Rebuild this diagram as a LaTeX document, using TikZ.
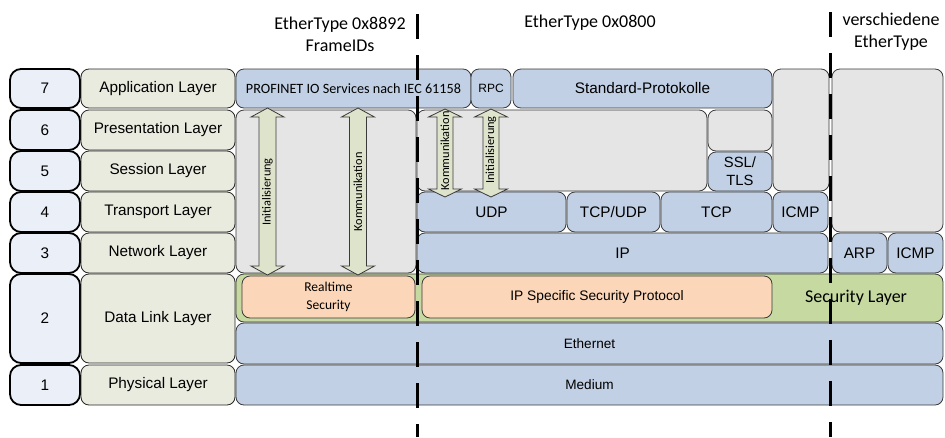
\documentclass[tikz,border=0pt]{standalone}
\usepackage{fontspec}
\setmainfont{Liberation Sans}
\newfontfamily\calfont{Carlito}

\definecolor{numfill}{HTML}{EAEFF8}
\definecolor{layfill}{HTML}{E9EBDF}
\definecolor{bluefill}{HTML}{C1D0E4}
\definecolor{greyfill}{HTML}{E5E5E5}
\definecolor{secgreen}{HTML}{C5D9A1}
\definecolor{peach}{HTML}{FBD6B8}
\definecolor{arrowfill}{HTML}{DEE3CB}
\definecolor{edge}{HTML}{3A3A3A}

\tikzset{
  blk/.style={draw=edge, line width=0.8pt, rounded corners=8pt, inner sep=0pt, outer sep=0pt,
              align=center, font=\fontsize{15.3}{18}\selectfont},
  numbox/.style={blk, draw=black, line width=1.8pt, rounded corners=11pt, fill=numfill},
  laybox/.style={blk, draw=black!85, fill=layfill},
  bluebox/.style={blk, fill=bluefill},
  greybox/.style={blk, fill=greyfill},
  greenbox/.style={blk, fill=secgreen},
  peachbox/.style={blk, fill=peach},
  arrowbox/.style={draw=edge, line width=0.8pt, fill=arrowfill, line join=miter},
  arrowtext/.style={rotate=90, inner sep=0pt, font=\calfont\fontsize{12.3}{14}\selectfont},
  headtext/.style={align=center, inner sep=0pt, font=\calfont\fontsize{18}{22}\selectfont},
  divider/.style={line width=3pt, dash pattern=on 25pt off 16pt},
}

% box from corner (x1,y1) to (x2,y2), name, style, text
\newcommand\blkbox[7]{\node[#6, minimum width={(#3-#1)*1pt}, minimum height={(#4-#2)*1pt}]
  (#5) at ({(#1+#3)/2},{(#2+#4)/2}) {#7};}
% block double arrow: centre x, top tip, bottom tip, shaft half width, head half width, head length
\newcommand\dblarrow[6]{%
  \draw[arrowbox] (#1,#2) -- ({#1+#5},{#2+#6}) -- ({#1+#4},{#2+#6}) -- ({#1+#4},{#3-#6})
    -- ({#1+#5},{#3-#6}) -- (#1,#3) -- ({#1-#5},{#3-#6}) -- ({#1-#4},{#3-#6})
    -- ({#1-#4},{#2+#6}) -- ({#1-#5},{#2+#6}) -- cycle;}

\begin{document}
\begin{tikzpicture}[x=1pt, y=-1pt]
\fill[white] (0,0) rectangle (945,437);
\path[use as bounding box] (0,0) rectangle (945,437);

% headings
\node[headtext] (ethA) at (340,34) {EtherType 0x8892\\FrameIDs};
\node[headtext] (ethB) at (590,23) {EtherType 0x0800};
\node[headtext] (ethC) at (891,32) {verschiedene\\EtherType};

% OSI layer numbers
\blkbox{10}{69}{80}{108}{n7}{numbox}{7}
\blkbox{10}{110}{80}{150}{n6}{numbox}{6}
\blkbox{10}{151}{80}{191}{n5}{numbox}{5}
\blkbox{10}{192}{80}{232}{n4}{numbox}{4}
\blkbox{10}{233}{80}{273}{n3}{numbox}{3}
\blkbox{10}{274}{80}{363}{n2}{numbox}{2}
\blkbox{10}{365}{80}{405}{n1}{numbox}{1}

% OSI layer names
\blkbox{81}{69}{235}{108}{l7}{laybox}{Application Layer}
\blkbox{81}{110}{235}{150}{l6}{laybox}{Presentation Layer}
\blkbox{81}{151}{235}{191}{l5}{laybox}{Session Layer}
\blkbox{81}{192}{235}{232}{l4}{laybox}{Transport Layer}
\blkbox{81}{233}{235}{273}{l3}{laybox}{Network Layer}
\blkbox{81}{274}{235}{363}{l2}{laybox}{Data Link Layer}
\blkbox{81}{365}{235}{405}{l1}{laybox}{Physical Layer}

% application row
\blkbox{236}{69}{471}{108}{pnio}{bluebox,font=\calfont\fontsize{14.2}{17}\selectfont}{PROFINET IO Services nach IEC 61158}
\blkbox{471}{69}{511}{108}{rpc}{bluebox,font=\fontsize{12}{14}\selectfont}{RPC}
\blkbox{513}{69}{772}{108}{std}{bluebox}{Standard-Protokolle}
\blkbox{773}{69}{829}{191}{gapA}{greybox}{}
\blkbox{832}{69}{943}{232}{gapB}{greybox}{}

% presentation / session rows
\blkbox{236}{110}{416}{273}{rtarea}{greybox}{}
\blkbox{417}{110}{707}{191}{iparea}{greybox}{}
\blkbox{708}{110}{772}{151}{gapC}{greybox}{}
\blkbox{708}{152}{772}{191}{ssl}{bluebox,font=\fontsize{14.8}{18}\selectfont}{SSL/\\TLS}

% transport row
\blkbox{417}{192}{566}{232}{udp}{bluebox}{UDP}
\blkbox{567}{192}{660}{232}{tcpudp}{bluebox}{TCP/UDP}
\blkbox{661}{192}{772}{232}{tcp}{bluebox}{TCP}
\blkbox{773}{192}{828}{232}{icmpA}{bluebox}{ICMP}

% network row
\blkbox{417}{233}{828}{273}{ip}{bluebox}{IP}
\blkbox{832}{233}{887}{273}{arp}{bluebox}{ARP}
\blkbox{888}{233}{943}{273}{icmpB}{bluebox}{ICMP}

% data link row
\blkbox{236}{274}{943}{322}{sec}{greenbox}{}
\blkbox{242}{276}{415}{318}{rtsec}{peachbox,font=\calfont\fontsize{13.5}{18}\selectfont}{Realtime\\Security}
\blkbox{422}{276}{772}{318}{ipsec}{peachbox,font=\fontsize{13.8}{16}\selectfont}{IP Specific Security Protocol}
\node[headtext] (seclabel) at (856,298) {Security Layer};
\blkbox{236}{323}{943}{364}{eth}{bluebox,font=\fontsize{13.6}{16}\selectfont}{Ethernet}

% physical row
\blkbox{236}{365}{943}{405}{med}{bluebox,font=\fontsize{13.6}{16}\selectfont}{Medium}

% initialisation and communication paths
\dblarrow{267.5}{108}{275}{8.5}{16.5}{9}
\node[arrowtext] (initA) at (267.5,192) {Initialisierung};
\dblarrow{358}{108}{275}{8.5}{16.5}{9}
\node[arrowtext] (commA) at (358,192) {Kommunikation};
\dblarrow{445}{109}{197}{8}{16.5}{8}
\node[arrowtext] (commB) at (445,151) {Kommunikation};
\dblarrow{491}{109}{197}{8}{16.5}{8}
\node[arrowtext] (initB) at (491,150) {Initialisierung};

% EtherType dividers
\coordinate (divAtop) at (417,14);
\coordinate (divAbot) at (417,437);
\coordinate (divBtop) at (830,12);
\coordinate (divBbot) at (830,437);
\draw[divider] (divAtop) -- (divAbot);
\draw[divider] (divBtop) -- (divBbot);
\end{tikzpicture}
\end{document}
